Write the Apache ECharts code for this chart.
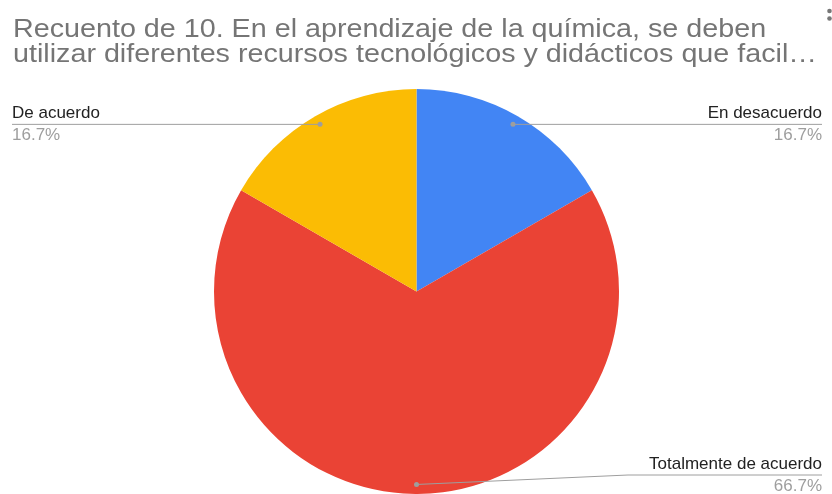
<!DOCTYPE html>
<html>
<head>
<meta charset="utf-8">
<script src="https://cdn.jsdelivr.net/npm/echarts@6/dist/echarts.min.js"></script>
<style>
  html, body { margin: 0; padding: 0; background: #fff; }
  #main { width: 832px; height: 494px; }
</style>
</head>
<body>
<div id="main"></div>
<script>
// datos de la encuesta
const names = ['En desacuerdo', 'Totalmente de acuerdo', 'De acuerdo'];
const values = [1, 4, 1];
const colors = ['#4285F4', '#EA4335', '#FBBC04'];
const titleLines = [
  'Recuento de 10. En el aprendizaje de la química, se deben',
  'utilizar diferentes recursos tecnológicos y didácticos que facil…'
];

// geometría del pastel
const CX = 416.5, CY = 291.5, R = 202.5;
const DOT = 0.953; // punto de la guía dentro del sector
// dónde termina cada guía
const labelEnds = [
  { side: 'right', x: 822 },
  { side: 'right', x: 822, bendX: 628, maxY: 475 },
  { side: 'left', x: 12 }
];

const total = values.reduce((a, b) => a + b, 0);

// punto medio de cada sector (empieza arriba, sentido horario)
function dotPoint(i) {
  let before = 0;
  for (let k = 0; k < i; k++) before += values[k];
  const mid = (before + values[i] / 2) / total * Math.PI * 2;
  return [CX + R * DOT * Math.sin(mid), CY - R * DOT * Math.cos(mid)];
}

function guidePoints(i) {
  const end = labelEnds[i];
  const d = dotPoint(i);
  if (end.maxY !== undefined && d[1] > end.maxY) {
    return [d, [end.bendX, end.maxY], [end.x, end.maxY]];
  }
  return [d, [end.x, d[1]]];
}

// guías encima del pastel
const guides = [];
values.forEach((v, i) => {
  const pts = guidePoints(i);
  guides.push({
    type: 'polyline',
    shape: { points: pts },
    style: { stroke: '#9e9e9e', lineWidth: 1, fill: null },
    z: 100
  });
  guides.push({
    type: 'circle',
    shape: { cx: pts[0][0], cy: pts[0][1], r: 2.5 },
    style: { fill: '#9e9e9e' },
    z: 101
  });
});

// título (dos líneas, algo más ancho que Arial)
const titleTexts = titleLines.map((t, i) => ({
  type: 'text',
  x: 13,
  y: 30.5 + i * 24.5,
  scaleX: 1.148,
  style: {
    text: t,
    fontFamily: 'Liberation Sans, Arial, sans-serif',
    fontSize: 25,
    fill: '#757575',
    verticalAlign: 'middle',
    align: 'left'
  }
}));

const myChart = echarts.init(document.getElementById('main'));
myChart.setOption({
  animation: false,
  graphic: [
    ...titleTexts,
    ...guides,
    // menú de tres puntos (recortado)
    { type: 'circle', shape: { cx: 829.5, cy: 11, r: 2.3 }, style: { fill: '#777' } },
    { type: 'circle', shape: { cx: 829.5, cy: 18.5, r: 2.3 }, style: { fill: '#777' } }
  ],
  series: [
    {
      type: 'pie',
      center: [CX, CY],
      radius: [0, R],
      startAngle: 90,
      clockwise: true,
      avoidLabelOverlap: false,
      color: colors,
      itemStyle: { borderWidth: 0 },
      label: {
        show: true,
        position: 'outer',
        fontFamily: 'Liberation Sans, Arial, sans-serif',
        formatter: (p) => {
          const side = labelEnds[p.dataIndex].side === 'right' ? 'R' : 'L';
          const pct = (p.value / total * 100).toFixed(1) + '%';
          return `{n${side}|${p.name}}\n{p${side}|${pct}}`;
        },
        rich: {
          nR: { fontSize: 17, color: '#222', lineHeight: 22, align: 'right', fontFamily: 'Liberation Sans' },
          pR: { fontSize: 17, color: '#9e9e9e', lineHeight: 22, align: 'right', fontFamily: 'Liberation Sans' },
          nL: { fontSize: 17, color: '#222', lineHeight: 22, align: 'left', fontFamily: 'Liberation Sans' },
          pL: { fontSize: 17, color: '#9e9e9e', lineHeight: 22, align: 'left', fontFamily: 'Liberation Sans' }
        }
      },
      labelLine: { show: false },
      labelLayout: (params) => {
        const i = params.dataIndex;
        const end = labelEnds[i];
        const pts = guidePoints(i);
        const lineY = pts[pts.length - 1][1];
        return {
          x: end.x,
          y: lineY,
          align: end.side === 'right' ? 'right' : 'left',
          verticalAlign: 'middle'
        };
      },
      emphasis: { disabled: true },
      data: names.map((n, i) => ({ name: n, value: values[i] }))
    }
  ]
});
</script>
</body>
</html>
